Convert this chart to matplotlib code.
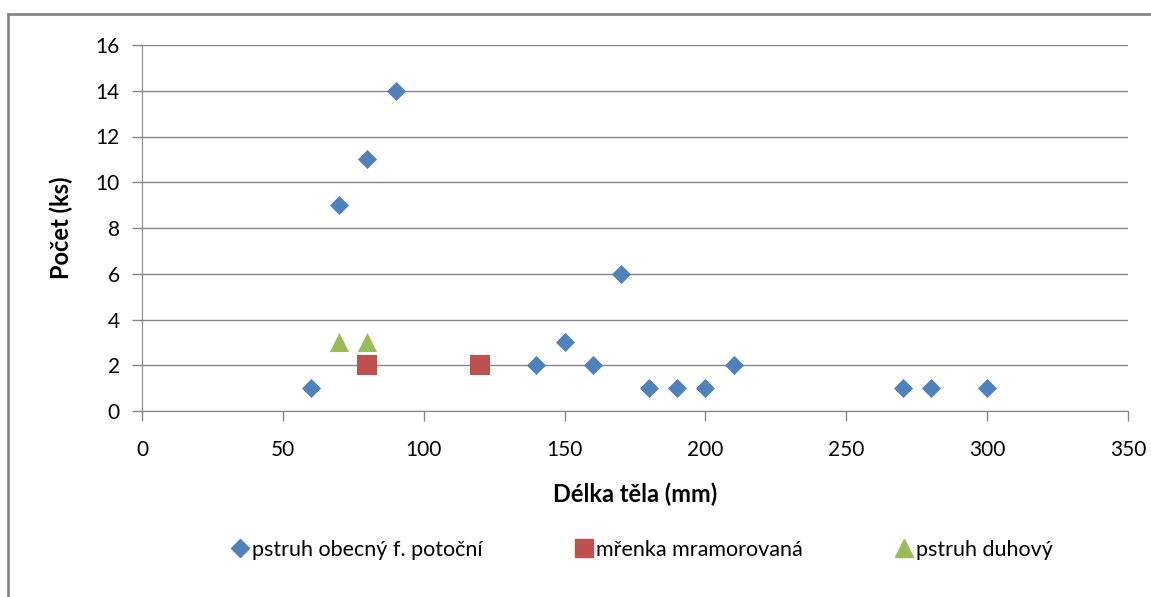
import matplotlib.pyplot as plt
from matplotlib.lines import Line2D

plt.rcParams['font.family'] = ['Lato', 'DejaVu Sans']

# pstruh obecny f. potocni
trout_x = [60, 70, 80, 90, 140, 150, 160, 170, 180, 190, 200, 210, 270, 280, 300]
trout_y = [1, 9, 11, 14, 2, 3, 2, 6, 1, 1, 1, 2, 1, 1, 1]
# mrenka mramorovana
loach_x = [80, 120]
loach_y = [2, 2]
# pstruh duhovy
rainbow_x = [70, 80]
rainbow_y = [3, 3]

labels = ['pstruh obecný f. potoční', 'mřenka mramorovaná', 'pstruh duhový']

fig = plt.figure(figsize=(11.51, 5.97), dpi=100)
ax = fig.add_axes([142/1151, 1 - 411/597, (1128 - 142)/1151, (411 - 45)/597])

grey = '#868686'
ax.scatter(trout_x, trout_y, marker='D', s=95, color='#4F81BD', zorder=3, linewidths=0)
ax.scatter(loach_x, loach_y, marker='s', s=190, color='#C0504D', zorder=3, linewidths=0)
ax.scatter(rainbow_x, rainbow_y, marker='^', s=190, color='#9BBB59', zorder=3, linewidths=0)

ax.set_xlim(0, 350)
ax.set_ylim(0, 16)
ax.set_xticks(range(0, 351, 50))
ax.set_yticks(range(0, 17, 2))
ax.yaxis.grid(True, color=grey, linewidth=1)
ax.set_axisbelow(True)
for side in ['top', 'right']:
    ax.spines[side].set_visible(False)
for side in ['left', 'bottom']:
    ax.spines[side].set_color(grey)
ax.tick_params(axis='both', colors=grey, labelcolor='black', labelsize=15, length=7, width=1)
ax.tick_params(axis='x', pad=14)
ax.tick_params(axis='y', pad=9)

ax.set_xlabel('Délka těla (mm)', fontsize=17, fontweight='bold', labelpad=16)
ax.set_ylabel('Počet (ks)', fontsize=17, fontweight='bold', labelpad=16)

handles = [
    Line2D([], [], marker='D', color='#4F81BD', linestyle='None', markersize=9),
    Line2D([], [], marker='s', color='#C0504D', linestyle='None', markersize=13),
    Line2D([], [], marker='^', color='#9BBB59', linestyle='None', markersize=13),
]
fig.legend(handles, labels, loc='center', bbox_to_anchor=(0.557, 1 - 550/597), ncol=3,
           frameon=False, fontsize=15.5, handletextpad=0.05, columnspacing=4.2, handlelength=1.0)

# outer chart border (only top and left visible in the crop)
fig.add_artist(Line2D([8/1151, 1], [1 - 14/597, 1 - 14/597], color=grey, linewidth=2, transform=fig.transFigure))
fig.add_artist(Line2D([8/1151, 8/1151], [0, 1 - 14/597], color=grey, linewidth=2, transform=fig.transFigure))

fig.savefig('out.png', dpi=100)
